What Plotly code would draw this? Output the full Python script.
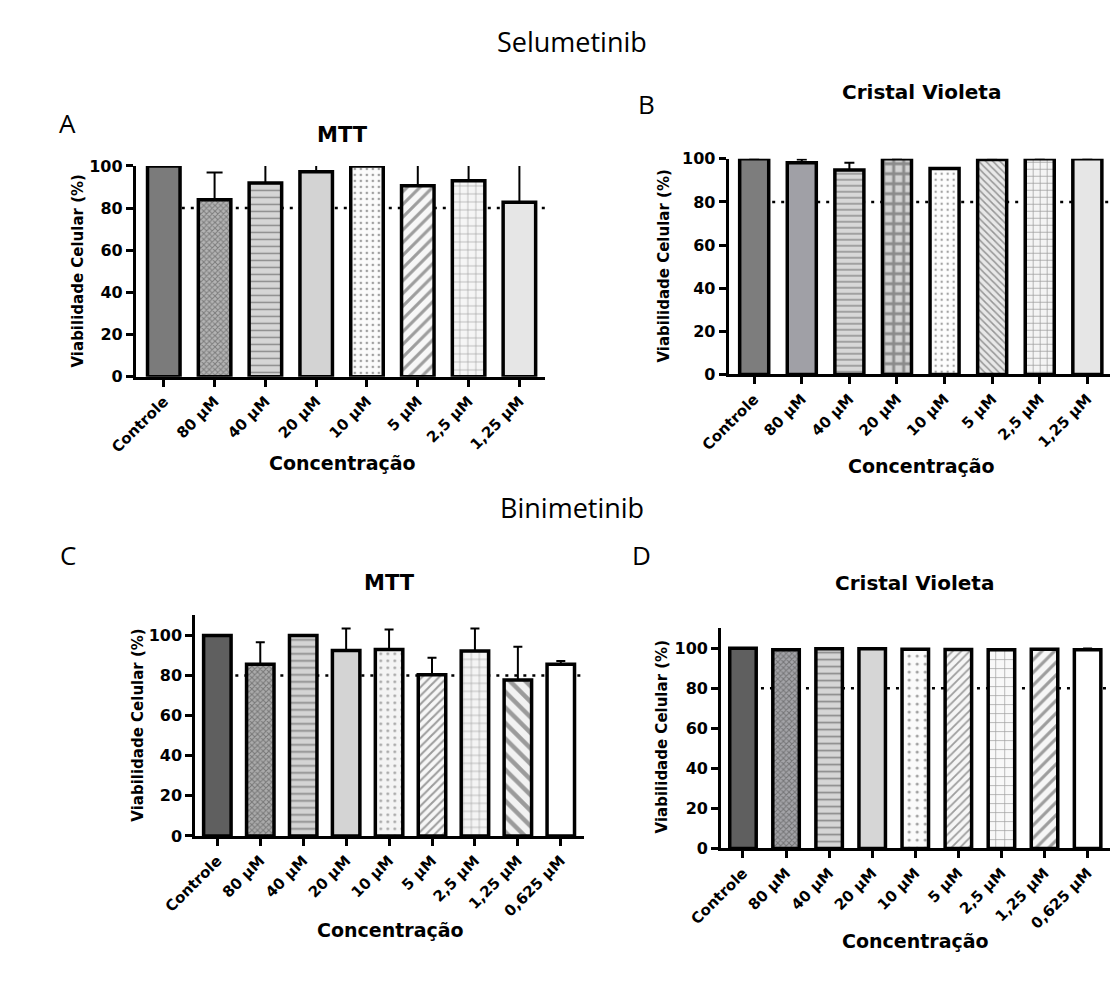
import plotly.graph_objects as go

# ---------------- data ----------------
cats8 = ["Controle", "80 µM", "40 µM", "20 µM", "10 µM", "5 µM", "2,5 µM", "1,25 µM"]
cats9 = cats8 + ["0,625 µM"]

# Selumetinib - MTT (A)
sel_mtt_mean = [100, 84.0, 91.9, 97.2, 100, 90.6, 93.0, 82.8]
sel_mtt_sd = [0, 12.9, 10.0, 4.5, 0, 12.0, 9.5, 19.0]
# Selumetinib - Cristal Violeta (B)
sel_cv_mean = [100, 98.2, 94.8, 100, 95.5, 99.7, 100, 100]
sel_cv_sd = [0, 1.5, 3.4, 0, 0, 0, 0, 0]
# Binimetinib - MTT (C)
bin_mtt_mean = [100, 85.6, 100, 92.5, 93.0, 80.4, 92.2, 77.8, 85.6]
bin_mtt_sd = [0, 11.0, 0, 10.9, 9.9, 8.5, 11.2, 16.5, 1.7]
# Binimetinib - Cristal Violeta (D)
bin_cv_mean = [100, 99.2, 99.7, 99.7, 99.5, 99.3, 99.2, 99.5, 99.2]
bin_cv_sd = [0, 0, 0, 0, 0, 0, 0, 0, 0.6]

threshold = 80
yticks = [0, 20, 40, 60, 80, 100]

# ---------------- styles ----------------
W, H = 1110, 983
BOLD = dict(family="DejaVu Sans", weight="bold", color="black")

# (bg colour, pattern shape, fg colour, pattern size, solidity)
style_A = [
    ("#7b7b7b", "", "#7b7b7b", 8, 0.3),
    ("#b4b4b4", "x", "#6a6a6a", 4, 0.45),
    ("#d6d6d6", "-", "#9a9a9a", 7, 0.22),
    ("#d3d3d3", "", "#d3d3d3", 8, 0.3),
    ("#fbfbfb", ".", "#c8c8c8", 6, 0.15),
    ("#f7f7f7", "/", "#bdbdbd", 9, 0.35),
    ("#f5f5f5", "+", "#c6c6c6", 8, 0.15),
    ("#e6e6e6", "", "#e6e6e6", 8, 0.3),
]
style_B = [
    ("#7d7d7d", "", "#7d7d7d", 8, 0.3),
    ("#a0a0a6", "", "#a0a0a6", 8, 0.3),
    ("#d8d8d8", "-", "#a4a4a4", 6, 0.25),
    ("#d2d2d2", "+", "#a2a2a2", 10, 0.5),
    ("#fdfdfd", ".", "#7a7a7a", 6, 0.12),
    ("#e8e8e8", "\\", "#8a8a8a", 5, 0.3),
    ("#f4f4f4", "+", "#6a6a6a", 7, 0.2),
    ("#e6e6e6", "", "#e6e6e6", 8, 0.3),
]
style_C = [
    ("#5f5f5f", "", "#5f5f5f", 8, 0.3),
    ("#ababab", "x", "#6f6f6f", 4, 0.45),
    ("#d4d4d4", "-", "#8f8f8f", 7, 0.25),
    ("#d4d4d4", "", "#d4d4d4", 8, 0.3),
    ("#f4f4f4", ".", "#8f8f8f", 7, 0.12),
    ("#f7f7f7", "/", "#a6a6a6", 6, 0.35),
    ("#f4f4f4", "+", "#afafaf", 8, 0.15),
    ("#f2f2f2", "\\", "#969696", 11, 0.4),
    ("#ffffff", "", "#ffffff", 8, 0.3),
]
style_D = [
    ("#5f5f5f", "", "#5f5f5f", 8, 0.3),
    ("#a4a4a8", "x", "#6c6c70", 4, 0.45),
    ("#d6d6d6", "-", "#a0a0a0", 7, 0.25),
    ("#d6d6d6", "", "#d6d6d6", 8, 0.3),
    ("#fbfbfb", ".", "#bdbdbd", 8, 0.12),
    ("#f6f6f6", "/", "#c8c8c8", 6, 0.3),
    ("#f8f8f8", "+", "#cacaca", 9, 0.15),
    ("#f6f6f6", "/", "#d2d2d2", 9, 0.35),
    ("#ffffff", "", "#ffffff", 8, 0.3),
]

# panel layout in pixels: x-domain (left,right), y-domain (top,bottom), x range, y range, bar width, cap
panels = [
    dict(ax="", cats=cats8, mean=sel_mtt_mean, sd=sel_mtt_sd, style=style_A,
         xd=(106, 528), yd=(160, 375), xr=[-0.55, 7.51], yr=[0, 100], bw=0.64, cap=8),
    dict(ax="2", cats=cats8, mean=sel_cv_mean, sd=sel_cv_sd, style=style_B,
         xd=(717, 1110), yd=(152.7, 372.7), xr=[-0.536, 7.476], yr=[0, 100], bw=0.61, cap=5),
    dict(ax="3", cats=cats9, mean=bin_mtt_mean, sd=bin_mtt_sd, style=style_C,
         xd=(167.3, 568.3), yd=(618.3, 843.3), xr=[-0.513, 8.55], yr=[0, 110], bw=0.64, cap=4.5),
    dict(ax="4", cats=cats9, mean=bin_cv_mean, sd=bin_cv_sd, style=style_D,
         xd=(709.3, 1110), yd=(631.3, 856), xr=[-0.505, 8.52], yr=[0, 110], bw=0.615, cap=4.5),
]

fig = go.Figure()
shapes = []
for p in panels:
    st = p["style"]
    fig.add_trace(go.Bar(
        x=p["cats"], y=p["mean"],
        xaxis="x" + p["ax"], yaxis="y" + p["ax"],
        width=p["bw"],
        marker=dict(
            color=[s[0] for s in st],
            line=dict(color="black", width=3.5),
            pattern=dict(
                shape=[s[1] for s in st],
                fgcolor=[s[2] for s in st],
                size=[s[3] for s in st],
                solidity=[s[4] for s in st],
                fillmode="overlay",
            ),
        ),
        error_y=dict(type="data", array=p["sd"], arrayminus=[0] * len(p["sd"]),
                     symmetric=False, color="black", thickness=2, width=p["cap"]),
        showlegend=False,
    ))
    xa = dict(
        domain=[p["xd"][0] / W, p["xd"][1] / W],
        range=p["xr"], anchor="y" + p["ax"],
        showline=True, linecolor="black", linewidth=3,
        ticks="outside", ticklen=7, tickwidth=2.5, tickcolor="black",
        tickangle=-45, tickfont=dict(size=15, **BOLD),
        showgrid=False, zeroline=False, fixedrange=True,
    )
    ya = dict(
        domain=[1 - p["yd"][1] / H, 1 - p["yd"][0] / H],
        range=p["yr"], anchor="x" + p["ax"],
        showline=True, linecolor="black", linewidth=3,
        ticks="outside", ticklen=7, tickwidth=2.5, tickcolor="black",
        tickvals=yticks, tickfont=dict(size=16, **BOLD),
        showgrid=False, zeroline=False, fixedrange=True,
    )
    key = p["ax"]
    fig.layout["xaxis" + key] = xa
    fig.layout["yaxis" + key] = ya
    shapes.append(dict(
        type="line", xref="x" + key, yref="y" + key,
        x0=0, x1=p["xr"][1], y0=threshold, y1=threshold,
        line=dict(color="black", width=2.5, dash="3px,6px"), layer="below",
    ))


def ann(text, x, y, size, font=None, angle=0):
    f = dict(size=size, **(font or dict(family="Open Sans", color="black")))
    return dict(text=text, x=x / W, y=1 - y / H, xref="paper", yref="paper",
                xanchor="center", yanchor="middle", showarrow=False,
                font=f, textangle=angle)


annotations = [
    ann("Selumetinib", 555, 33, 27),
    ann("Binimetinib", 555, 508, 27),
    ann("A", 36, 116, 26), ann("B", 632, 97, 26),
    ann("C", 36, 557, 26), ann("D", 627, 557, 26),
    ann("MTT", 319, 128, 21, BOLD),
    ann("Cristal Violeta", 916, 85, 20, BOLD),
    ann("MTT", 367, 585, 21, BOLD),
    ann("Cristal Violeta", 908, 585, 20, BOLD),
    ann("Viabilidade Celular (%)", 46, 267, 15, BOLD, -90),
    ann("Viabilidade Celular (%)", 650, 262, 15, BOLD, -90),
    ann("Viabilidade Celular (%)", 108, 730, 15, BOLD, -90),
    ann("Viabilidade Celular (%)", 648, 742, 15, BOLD, -90),
    ann("Concentração", 319, 463, 19, BOLD),
    ann("Concentração", 916, 466, 19, BOLD),
    ann("Concentração", 368, 939, 19, BOLD),
    ann("Concentração", 910, 950, 19, BOLD),
]

fig.update_layout(
    width=W, height=H, margin=dict(l=0, r=0, t=0, b=0),
    paper_bgcolor="white", plot_bgcolor="white",
    shapes=shapes, annotations=annotations, bargap=0.3,
)

fig.write_html("out.html")
